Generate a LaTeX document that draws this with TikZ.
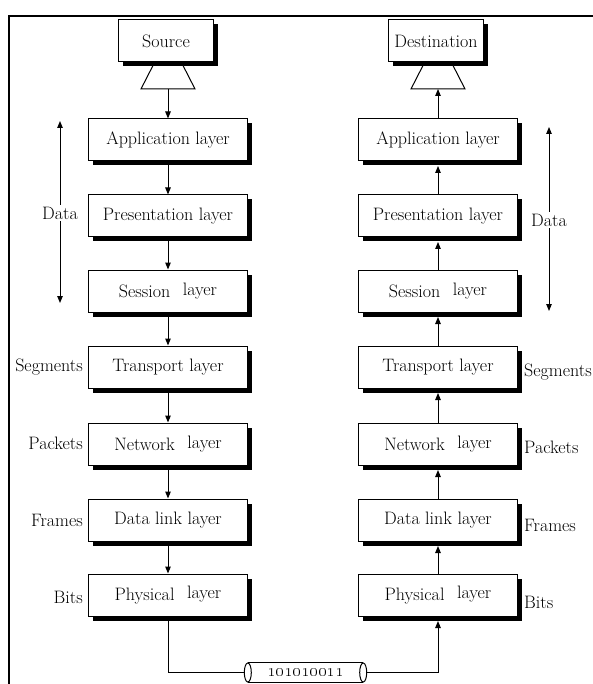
\RequirePackage{fix-cm}
\documentclass[tikz,border=0pt]{standalone}
\usetikzlibrary{arrows.meta,shadows}
\begin{document}
\begin{tikzpicture}[x=1pt,y=-1pt,
  every node/.style={font=\fontsize{18}{21}\selectfont},
  layerbox/.style={draw, line width=1pt, fill=white, minimum width=159pt,
    minimum height=42pt, inner sep=0pt,
    drop shadow={shadow xshift=4.5pt, shadow yshift=-4.5pt, opacity=1, fill=black}},
  endbox/.style={layerbox, minimum width=95pt},
  tag/.style={inner sep=2pt},
  flow/.style={line width=1pt, -{Triangle[length=7pt,width=5.5pt]}},
  upflow/.style={flow, shorten >=4.5pt},
  funnel/.style={draw, line width=1pt, fill=white},
]
\useasboundingbox (0,0) rectangle (593,684);

% outer frame (left and top edges)
\draw[line width=2pt] (9,684) -- (9,16) -- (593,16);

\newcommand{\spaced}[2]{#1\hspace{0.7em}\raisebox{2pt}{#2}}

% sending stack
\node[endbox] (src) at (166,41) {Source};
\coordinate (srcfun) at (168,89);
\draw[funnel] (153,65.5) -- (183,65.5) -- (195,89) -- (141,89) -- cycle;
\node[layerbox] (app1) at (168,140) {Application layer};
\node[layerbox] (pres1) at (168,216) {Presentation layer};
\node[layerbox] (sess1) at (168,291) {\spaced{Session}{layer}};
\node[layerbox] (trans1) at (168,367) {Transport layer};
\node[layerbox] (net1) at (168,444) {\spaced{Network}{layer}};
\node[layerbox] (dl1) at (168,520) {Data link layer};
\node[layerbox] (phy1) at (168,595) {\spaced{Physical}{layer}};

\draw[flow] (srcfun) -- (app1.north);
\draw[flow] (app1.south) -- (pres1.north);
\draw[flow] (pres1.south) -- (sess1.north);
\draw[flow] (sess1.south) -- (trans1.north);
\draw[flow] (trans1.south) -- (net1.north);
\draw[flow] (net1.south) -- (dl1.north);
\draw[flow] (dl1.south) -- (phy1.north);

% receiving stack
\node[endbox] (dst) at (436,41) {Destination};
\coordinate (dstfun) at (438,89);
\draw[funnel] (423,65.5) -- (453,65.5) -- (465,89) -- (411,89) -- cycle;
\node[layerbox] (app2) at (438,140) {Application layer};
\node[layerbox] (pres2) at (438,216) {Presentation layer};
\node[layerbox] (sess2) at (438,291) {\spaced{Session}{layer}};
\node[layerbox] (trans2) at (438,367) {Transport layer};
\node[layerbox] (net2) at (438,444) {\spaced{Network}{layer}};
\node[layerbox] (dl2) at (438,520) {Data link layer};
\node[layerbox] (phy2) at (438,595) {\spaced{Physical}{layer}};

\draw[flow] (app2.north) -- (dstfun);
\draw[upflow] (pres2.north) -- (app2.south);
\draw[upflow] (sess2.north) -- (pres2.south);
\draw[upflow] (trans2.north) -- (sess2.south);
\draw[upflow] (net2.north) -- (trans2.south);
\draw[upflow] (dl2.north) -- (net2.south);
\draw[upflow] (phy2.north) -- (dl2.south);

% data unit labels, sending side
\node[tag] (dataL) at (60,213) {Data};
\coordinate (dataLtop) at (60,121);
\coordinate (dataLbot) at (60,303);
\draw[flow] (dataL.north) -- (dataLtop);
\draw[flow] (dataL.south) -- (dataLbot);
\node[tag, anchor=east] (segL) at (85,367) {Segments};
\node[tag, anchor=east] (pktL) at (85,443) {Packets};
\node[tag, anchor=east] (frmL) at (85,520) {Frames};
\node[tag, anchor=east] (bitL) at (85,597) {Bits};

% data unit labels, receiving side
\node[tag] (dataR) at (549,220) {Data};
\coordinate (dataRtop) at (549,127);
\coordinate (dataRbot) at (549,311);
\draw[flow] (dataR.north) -- (dataRtop);
\draw[flow] (dataR.south) -- (dataRbot);
\node[tag, anchor=west] (segR) at (522,372) {Segments};
\node[tag, anchor=west] (pktR) at (522,447) {Packets};
\node[tag, anchor=west] (frmR) at (522,525) {Frames};
\node[tag, anchor=west] (bitR) at (522,602) {Bits};

% transmission medium
\node[minimum width=115pt, minimum height=19pt, inner sep=0pt] (wire) at (305.5,672.5)
  {\oldstylenums{101010011}};
\draw[line width=1pt] (wire.north west) -- (wire.north east)
  (wire.south west) -- (wire.south east);
\draw[line width=1pt, fill=white] (wire.west) ellipse [x radius=3.5pt, y radius=9.5pt];
\draw[line width=1pt] (wire.east) ellipse [x radius=3.5pt, y radius=9.5pt];
\coordinate (wireL) at ([xshift=-3.5pt]wire.west);
\coordinate (wireR) at ([xshift=3.5pt]wire.east);
\draw[line width=1pt] (phy1.south) |- (wireL);
\draw[upflow] (wireR) -| (phy2.south);
\end{tikzpicture}
\end{document}
